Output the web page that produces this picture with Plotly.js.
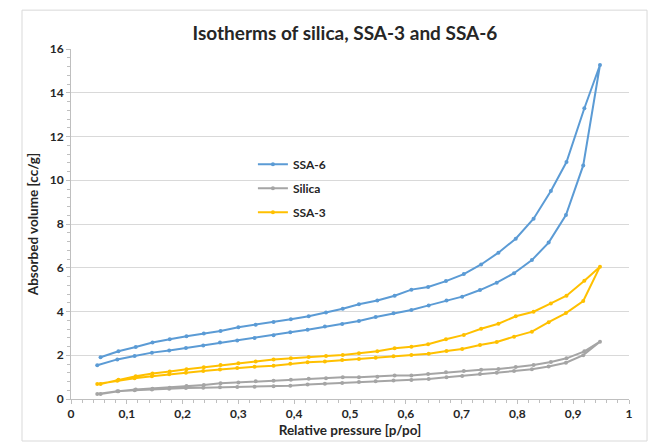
<!DOCTYPE html>
<html>
<head>
<meta charset="utf-8">
<script src="https://cdn.plot.ly/plotly-3.0.1.min.js"></script>
<style>html,body{margin:0;padding:0;background:#fff;}#chart{width:658px;height:443px;}</style>
</head>
<body>
<div id="chart"></div>
<script>
// Relative pressure p/po: adsorption branch (rising) and desorption branch (falling)
const pAds = [0.047, 0.083, 0.114, 0.145, 0.176, 0.206, 0.237, 0.267, 0.298, 0.329,
              0.363, 0.393, 0.424, 0.455, 0.486, 0.516, 0.546, 0.578, 0.610, 0.641,
              0.673, 0.701, 0.733, 0.763, 0.794, 0.826, 0.856, 0.887, 0.918, 0.948];
const pDes = [0.920, 0.888, 0.860, 0.829, 0.797, 0.766, 0.735, 0.704, 0.672, 0.640,
              0.610, 0.580, 0.549, 0.516, 0.487, 0.457, 0.426, 0.394, 0.363, 0.331,
              0.300, 0.268, 0.238, 0.207, 0.177, 0.146, 0.116, 0.085, 0.053];

// Absorbed volume [cc/g]
const ssa6Ads = [1.54, 1.81, 1.97, 2.12, 2.22, 2.33, 2.45, 2.58, 2.68, 2.79,
                 2.92, 3.05, 3.17, 3.31, 3.43, 3.57, 3.75, 3.92, 4.07, 4.28,
                 4.50, 4.68, 4.98, 5.32, 5.75, 6.35, 7.15, 8.41, 10.68, 15.27];
const ssa6Des = [13.29, 10.83, 9.51, 8.24, 7.33, 6.69, 6.15, 5.71, 5.39, 5.12,
                 5.00, 4.72, 4.50, 4.33, 4.13, 3.95, 3.78, 3.65, 3.52, 3.39,
                 3.28, 3.11, 3.00, 2.87, 2.73, 2.58, 2.38, 2.18, 1.91];

const silicaAds = [0.23, 0.35, 0.40, 0.44, 0.47, 0.50, 0.52, 0.54, 0.55, 0.56,
                   0.58, 0.61, 0.66, 0.70, 0.73, 0.78, 0.81, 0.85, 0.87, 0.91,
                   0.99, 1.05, 1.14, 1.20, 1.28, 1.36, 1.49, 1.66, 2.00, 2.62];
const silicaDes = [2.18, 1.86, 1.69, 1.55, 1.46, 1.37, 1.34, 1.28, 1.22, 1.14,
                   1.08, 1.07, 1.02, 0.99, 0.99, 0.95, 0.93, 0.88, 0.84, 0.81,
                   0.76, 0.72, 0.64, 0.59, 0.52, 0.47, 0.43, 0.35, 0.23];

const ssa3Ads = [0.69, 0.84, 0.95, 1.04, 1.13, 1.20, 1.28, 1.35, 1.42, 1.48,
                 1.52, 1.61, 1.68, 1.72, 1.78, 1.83, 1.89, 1.95, 2.01, 2.07,
                 2.19, 2.29, 2.47, 2.61, 2.85, 3.08, 3.51, 3.93, 4.48, 6.05];
const ssa3Des = [5.41, 4.72, 4.37, 3.99, 3.78, 3.44, 3.21, 2.93, 2.73, 2.50,
                 2.39, 2.32, 2.18, 2.09, 2.01, 1.97, 1.92, 1.86, 1.81, 1.71,
                 1.63, 1.55, 1.45, 1.36, 1.26, 1.17, 1.04, 0.88, 0.69];

const seriesNames = ['SSA-6', 'Silica', 'SSA-3'];
const seriesColors = ['#5b9bd5', '#a5a5a5', '#ffc000'];
const seriesY = [ssa6Ads.concat(ssa6Des), silicaAds.concat(silicaDes), ssa3Ads.concat(ssa3Des)];
const xLoop = pAds.concat(pDes);

const traces = seriesNames.map((name, i) => ({
  type: 'scatter', mode: 'lines+markers', name: name,
  x: xLoop, y: seriesY[i], legendgroup: 'g' + i,
  line: {color: seriesColors[i], width: 2},
  marker: {color: seriesColors[i], size: 4}
}));

const layout = {
  width: 658, height: 443,
  margin: {l: 71, r: 29, t: 49, b: 44},
  paper_bgcolor: '#ffffff', plot_bgcolor: '#ffffff',
  separators: ',.',
  font: {family: 'Lato, "Open Sans", sans-serif', color: '#262626'},
  title: {text: 'Isotherms of silica, SSA-3 and SSA-6', font: {size: 19, weight: 'bold', color: '#262626'},
          x: 0.491, xref: 'paper', xanchor: 'center', y: 0.925, yref: 'container', yanchor: 'middle'},
  showlegend: true,
  legend: {x: 0.326, y: 0.712, xanchor: 'left', yanchor: 'top', bgcolor: 'rgba(0,0,0,0)',
           font: {size: 12, weight: 'bold', color: '#262626'}, tracegroupgap: 5, itemwidth: 30},
  xaxis: {range: [0, 1], dtick: 0.1, tick0: 0, showgrid: false, zeroline: false,
          showline: true, linecolor: '#bfbfbf', linewidth: 1,
          ticks: 'outside', ticklen: 4, tickcolor: '#bfbfbf',
          minor: {dtick: 0.02, ticks: 'outside', ticklen: 3, tickcolor: '#bfbfbf', showgrid: false},
          tickfont: {size: 12, weight: 'bold', color: '#262626'},
          title: {text: 'Relative pressure [p/po]', font: {size: 13.5, weight: 'bold', color: '#262626'}, standoff: 5}},
  yaxis: {range: [0, 16], dtick: 2, tick0: 0, showgrid: true, gridcolor: '#d9d9d9', gridwidth: 1, zeroline: false,
          showline: true, linecolor: '#bfbfbf', linewidth: 1,
          ticks: 'outside', ticklen: 4, tickcolor: '#bfbfbf',
          minor: {dtick: 0.4, ticks: 'outside', ticklen: 3, tickcolor: '#bfbfbf', showgrid: false},
          tickfont: {size: 12, weight: 'bold', color: '#262626'},
          title: {text: 'Absorbed volume [cc/g]', font: {size: 13.5, weight: 'bold', color: '#262626'}, standoff: 7}},
  shapes: [{type: 'rect', xref: 'paper', yref: 'paper', x0: -0.0878, x1: 1.0323, y0: -0.12, y1: 1.111,
            line: {color: '#d9d9d9', width: 1}, fillcolor: 'rgba(0,0,0,0)', layer: 'below'}]
};

Plotly.newPlot('chart', traces, layout, {displayModeBar: false, staticPlot: true});
</script>
</body>
</html>
